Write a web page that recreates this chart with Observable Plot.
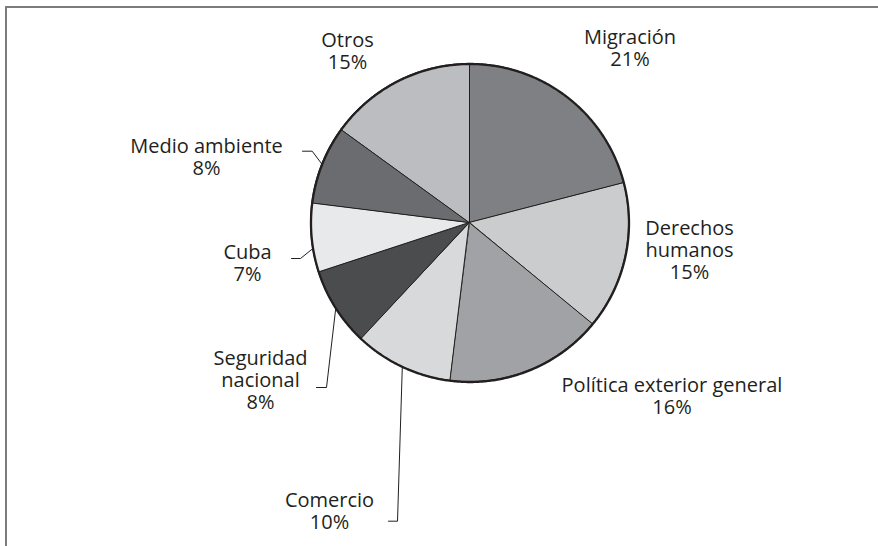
<!DOCTYPE html>
<html>
<head>
<meta charset="utf-8">
<script src="https://cdn.jsdelivr.net/npm/d3@7"></script>
<script src="https://cdn.jsdelivr.net/npm/@observablehq/plot@0.6"></script>
<style>
  html, body { margin: 0; padding: 0; background: #fff; }
  #wrap { position: relative; width: 878px; height: 546px; overflow: hidden; }
  #frame { position: absolute; left: 5px; top: 6px; right: -10px; bottom: -10px;
           border-top: 2px solid #7c7c7c; border-left: 2px solid #7c7c7c; }
  #chart { position: absolute; left: 0; top: 0; }
</style>
</head>
<body>
<div id="wrap"><div id="frame"></div><div id="chart"></div></div>
<script>
// ---- data ----
const categories = ["Migración", "Derechos humanos", "Política exterior general", "Comercio",
                    "Seguridad nacional", "Cuba", "Medio ambiente", "Otros"];
const shares = [21, 15, 16, 10, 8, 7, 8, 15];
const labelText = ["Migración", "Derechos\nhumanos", "Política exterior general", "Comercio",
                   "Seguridad\nnacional", "Cuba", "Medio ambiente", "Otros"];
const sliceColors = ["#7f8083", "#cbcccd", "#a1a2a5", "#d8d9da", "#4b4c4e", "#e8e9ea", "#6b6c6f", "#bcbdc0"];

// ---- layout (pixels) ----
const W = 878, H = 546;
const cx = 469.5, cy = 222.5, R = 159;
// label anchor: center x and baseline of last line, relative to pie center
const labelPos = {
  "Migración": [160, -157.5],
  "Derechos humanos": [219.5, 55.5],
  "Política exterior general": [202, 190.5],
  "Comercio": [-140.5, 305.5],
  "Seguridad nacional": [-209.5, 185.5],
  "Cuba": [-222.5, 57.5],
  "Medio ambiente": [-263.5, -48.5],
  "Otros": [-122.5, -154.5]
};
// leader lines: angle on rim (deg, clockwise from top; null = slice middle), knee and end
const leaders = {
  "Medio ambiente": {angle: null, knee: [-157.8, -71.8], end: [-167.5, -71.8]},
  "Cuba": {angle: 260.8, knee: [-169.5, 35.5], end: [-178.5, 35.5]},
  "Seguridad nacional": {angle: null, knee: [-143.5, 164.5], end: [-153.5, 164.5]},
  "Comercio": {angle: null, knee: [-72.5, 298.2], end: [-81.5, 298.2]}
};

// ---- geometry from data ----
const total = d3.sum(shares);
const rad = a => a * Math.PI / 180;
const px = a => cx + R * Math.sin(rad(a));
const py = a => cy - R * Math.cos(rad(a));

let acc = 0;
const slices = categories.map((c, i) => {
  const a0 = acc / total * 360;
  acc += shares[i];
  const a1 = acc / total * 360;
  return {cat: c, a0, a1, mid: (a0 + a1) / 2, share: shares[i], label: labelText[i]};
});

const sectorRows = [];
for (const s of slices) {
  const n = Math.max(2, Math.ceil((s.a1 - s.a0) / 0.5));
  for (let k = 0; k <= n; k++) {
    const a = s.a0 + (s.a1 - s.a0) * k / n;
    sectorRows.push({cat: s.cat, x1: cx, y1: cy, x2: px(a), y2: py(a)});
  }
}
const rimRows = d3.range(0, 360.5, 0.5).map(a => ({x: px(a), y: py(a)}));

const leaderRows = [];
for (const s of slices) {
  const L = leaders[s.cat];
  if (!L) continue;
  const a = L.angle ?? s.mid;
  leaderRows.push({cat: s.cat, x: px(a), y: py(a)});
  leaderRows.push({cat: s.cat, x: cx + L.knee[0], y: cy + L.knee[1]});
  leaderRows.push({cat: s.cat, x: cx + L.end[0], y: cy + L.end[1]});
}

const labelRows = slices.map(s => ({
  text: `${s.label}\n${s.share}%`,
  x: cx + labelPos[s.cat][0],
  y: cy + labelPos[s.cat][1]
}));

const ink = "#231f20";
const chart = Plot.plot({
  width: W, height: H,
  margin: 0,
  x: {domain: [0, W], range: [0, W], axis: null},
  y: {domain: [0, H], range: [0, H], axis: null},
  color: {domain: categories, range: sliceColors},
  style: {background: "transparent"},
  marks: [
    Plot.area(sectorRows, {x1: "x1", y1: "y1", x2: "x2", y2: "y2", z: "cat", fill: "cat",
                           stroke: ink, strokeWidth: 1, strokeLinejoin: "round"}),
    Plot.line(rimRows, {x: "x", y: "y", stroke: ink, strokeWidth: 2.3}),
    Plot.line(leaderRows, {x: "x", y: "y", z: "cat", stroke: ink, strokeWidth: 1}),
    Plot.text(labelRows, {x: "x", y: "y", text: "text", lineAnchor: "bottom", lineHeight: 1.1,
                          fontSize: 20, fill: ink, fontFamily: "Open Sans", textAnchor: "middle"})
  ]
});
document.getElementById("chart").appendChild(chart);
</script>
</body>
</html>
